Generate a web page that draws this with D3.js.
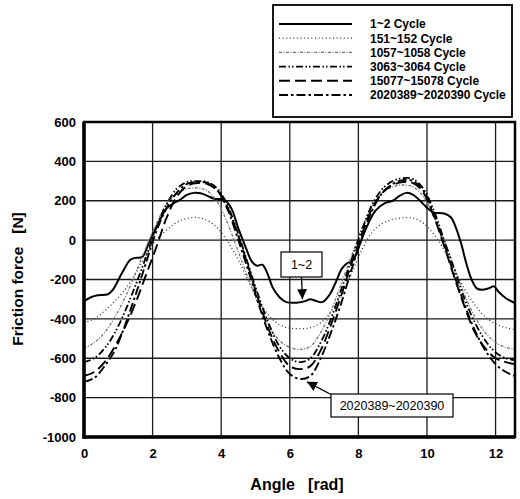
<!DOCTYPE html>
<html>
<head>
<meta charset="utf-8">
<script src="https://cdn.jsdelivr.net/npm/d3@7/dist/d3.min.js"></script>
<style>
  html, body { margin: 0; padding: 0; background: #fff; }
  svg { display: block; font-family: "Liberation Sans", Arial, sans-serif; }
</style>
</head>
<body>
<svg id="chart" width="520" height="499"></svg>
<script>
// Friction force over two revolutions, for several cycle windows
const yTicks = [-1000, -800, -600, -400, -200, 0, 200, 400, 600];
const xTicks = [0, 2, 4, 6, 8, 10, 12];

const seriesNames = ["1~2 Cycle", "151~152 Cycle", "1057~1058 Cycle",
  "3063~3064 Cycle", "15077~15078 Cycle", "2020389~2020390 Cycle"];

// Sampling angles [rad] shared by the later cycle windows
const angleGrid = [0, 0.3, 0.6, 0.9, 1.2, 1.5, 1.8, 2.1, 2.4, 2.7, 3.0, 3.3, 3.6, 3.9,
  4.2, 4.5, 4.8, 5.1, 5.4, 5.7, 6.0, 6.3, 6.6, 6.9, 7.2, 7.5, 7.8, 8.1, 8.4, 8.7,
  9.0, 9.3, 9.6, 9.9, 10.2, 10.5, 10.8, 11.1, 11.4, 11.7, 12.0, 12.3, 12.566];

// First cycles: own sampling, it has more local detail
const angle1 = [0, 0.2, 0.4, 0.7, 0.85, 1.1, 1.35, 1.5, 1.7, 1.9, 2.1, 2.4, 2.6, 2.8,
  3.0, 3.2, 3.4, 3.6, 3.8, 4.1, 4.3, 4.5, 4.7, 4.9, 5.05, 5.2, 5.35, 5.5, 5.7, 5.9,
  6.2, 6.45, 6.6, 6.75, 6.95, 7.15, 7.35, 7.5, 7.65, 7.85, 8.0, 8.2, 8.5, 8.8, 9.0,
  9.2, 9.4, 9.6, 9.8, 10.0, 10.2, 10.5, 10.7, 10.85, 11.0, 11.15, 11.3, 11.45, 11.6,
  11.8, 11.95, 12.1, 12.3, 12.566];
const force1 = [-310, -290, -280, -275, -250, -170, -100, -90, -85, -10, 60, 160, 185, 205,
  230, 240, 238, 225, 210, 205, 160, 60, -30, -110, -130, -125, -170, -240, -290, -315,
  -318, -310, -300, -308, -315, -280, -210, -150, -120, -100, -40, 50, 150, 190, 200,
  225, 240, 230, 200, 165, 140, 135, 115, 60, -20, -120, -200, -245, -252,
  -245, -235, -265, -295, -320];

const force151 = [-420, -400, -360, -310, -250, -170, -80, 0, 50, 90, 110, 115, 100, 60,
  -10, -100, -210, -310, -385, -430, -447, -450, -445, -420, -365, -280, -170, -50, 40, 85,
  105, 113, 112, 85, 30, -50, -150, -250, -330, -390, -425, -445, -455];
const force1057 = [-550, -520, -470, -390, -290, -170, -40, 80, 180, 235, 260, 265, 250, 190,
  80, -60, -200, -330, -440, -510, -545, -555, -540, -470, -360, -220, -80, 60, 170, 240,
  270, 280, 270, 220, 120, 0, -140, -280, -390, -470, -520, -545, -555];
const force3063 = [-620, -600, -550, -470, -360, -230, -90, 60, 180, 260, 295, 300, 295, 260,
  170, 30, -130, -290, -430, -540, -600, -620, -600, -520, -400, -250, -100, 50, 180, 260,
  300, 315, 310, 260, 150, 0, -150, -300, -420, -510, -570, -600, -610];
const force15077 = [-690, -670, -620, -540, -440, -320, -180, -40, 110, 220, 275, 290, 285, 250,
  160, 20, -140, -310, -460, -570, -640, -655, -640, -560, -430, -280, -120, 30, 160, 240,
  280, 295, 290, 240, 120, -30, -190, -340, -470, -550, -600, -620, -630];
const force2020389 = [-720, -700, -640, -560, -430, -280, -120, 40, 160, 240, 285, 295, 290, 250,
  150, 0, -160, -330, -480, -600, -680, -705, -690, -600, -470, -320, -150, 10, 150, 240,
  285, 305, 300, 250, 130, -20, -180, -330, -460, -560, -630, -670, -690];

// Stroke styles per cycle window
const styles = [
  { color: "#000", width: 2.0, dash: null },
  { color: "#333", width: 1.3, dash: "1,2.6" },
  { color: "#777", width: 1.3, dash: "3,1.5,1,1.5" },
  { color: "#000", width: 1.8, dash: "7,2.5,1.5,2,1.5,2.5" },
  { color: "#000", width: 1.9, dash: "11,5" },
  { color: "#000", width: 1.9, dash: "9,3,2.5,3" }
];

const series = [
  { name: seriesNames[0], x: angle1, y: force1 },
  { name: seriesNames[1], x: angleGrid, y: force151 },
  { name: seriesNames[2], x: angleGrid, y: force1057 },
  { name: seriesNames[3], x: angleGrid, y: force3063 },
  { name: seriesNames[4], x: angleGrid, y: force15077 },
  { name: seriesNames[5], x: angleGrid, y: force2020389 }
];

const svg = d3.select("#chart");
const plot = { left: 84, right: 515, top: 122, bottom: 437 };

const x = d3.scaleLinear().domain([0, 4 * Math.PI]).range([plot.left, plot.right]);
const y = d3.scaleLinear().domain([-1000, 600]).range([plot.bottom, plot.top]);

svg.append("clipPath").attr("id", "plotClip")
  .append("rect")
  .attr("x", plot.left).attr("y", plot.top)
  .attr("width", plot.right - plot.left).attr("height", plot.bottom - plot.top);

// Grid
const grid = svg.append("g").attr("stroke", "#1a1a1a").attr("stroke-width", 1.3);
grid.selectAll("line.h").data(yTicks.slice(1, -1)).join("line")
  .attr("x1", plot.left).attr("x2", plot.right)
  .attr("y1", d => y(d)).attr("y2", d => y(d));
grid.selectAll("line.v").data(xTicks.slice(1)).join("line")
  .attr("y1", plot.top).attr("y2", plot.bottom)
  .attr("x1", d => x(d)).attr("x2", d => x(d));

// Curves
const line = d3.line()
  .x(d => x(d[0])).y(d => y(d[1]))
  .curve(d3.curveCatmullRom.alpha(0.5));

const curves = svg.append("g").attr("clip-path", "url(#plotClip)");
series.forEach((s, i) => {
  const pts = s.x.map((a, k) => [a, s.y[k]]);
  const st = styles[i];
  curves.append("path")
    .attr("d", line(pts))
    .attr("fill", "none")
    .attr("stroke", st.color)
    .attr("stroke-width", st.width)
    .attr("stroke-dasharray", st.dash)
    .attr("stroke-linejoin", "round");
});

// Frame
svg.append("rect")
  .attr("x", plot.left).attr("y", plot.top)
  .attr("width", plot.right - plot.left).attr("height", plot.bottom - plot.top)
  .attr("fill", "none").attr("stroke", "#000").attr("stroke-width", 2.5);
svg.append("line").attr("x1", plot.left).attr("x2", plot.left)
  .attr("y1", plot.top).attr("y2", plot.bottom + 1.5)
  .attr("stroke", "#000").attr("stroke-width", 3.5);
svg.append("line").attr("x1", plot.left - 1.5).attr("x2", plot.right)
  .attr("y1", plot.bottom).attr("y2", plot.bottom)
  .attr("stroke", "#000").attr("stroke-width", 3.5);

// Axes (plain hyphen for negative numbers)
const plainNum = d => String(d);
const yAxis = d3.axisLeft(y).tickValues(yTicks).tickSize(0).tickPadding(8).tickFormat(plainNum);
const gy = svg.append("g").attr("transform", `translate(${plot.left},0)`).call(yAxis);
gy.select(".domain").remove();
gy.selectAll("text").attr("font-family", "Liberation Sans, Arial, sans-serif")
  .attr("font-size", 13).attr("font-weight", "bold").attr("fill", "#000");

const xAxis = d3.axisBottom(x).tickValues(xTicks).tickSize(0).tickPadding(12).tickFormat(plainNum);
const gx = svg.append("g").attr("transform", `translate(0,${plot.bottom})`).call(xAxis);
gx.select(".domain").remove();
gx.selectAll("text").attr("font-family", "Liberation Sans, Arial, sans-serif")
  .attr("font-size", 13).attr("font-weight", "bold").attr("fill", "#000");

// Axis titles
svg.append("text")
  .attr("x", 297).attr("y", 490)
  .attr("text-anchor", "middle")
  .attr("font-size", 16).attr("font-weight", "bold")
  .style("white-space", "pre")
  .text("Angle   [rad]");
svg.append("text")
  .attr("transform", "translate(23,279) rotate(-90)")
  .attr("text-anchor", "middle")
  .attr("font-size", 15.5).attr("font-weight", "bold")
  .style("white-space", "pre")
  .text("Friction force   [N]");

// Legend
const legend = svg.append("g");
legend.append("rect")
  .attr("x", 273).attr("y", 5).attr("width", 239).attr("height", 112)
  .attr("fill", "#fff").attr("stroke", "#000").attr("stroke-width", 1.8);
series.forEach((s, i) => {
  const yy = 24 + i * 14.2;
  const st = styles[i];
  legend.append("line")
    .attr("x1", 279).attr("x2", 352).attr("y1", yy).attr("y2", yy)
    .attr("stroke", st.color).attr("stroke-width", st.width)
    .attr("stroke-dasharray", st.dash);
  legend.append("text")
    .attr("x", 370).attr("y", yy + 4.3)
    .attr("font-size", 12).attr("font-weight", "bold")
    .text(s.name);
});

// Callouts
svg.append("defs").append("marker")
  .attr("id", "arrowHead").attr("viewBox", "0 0 10 10")
  .attr("refX", 10).attr("refY", 5)
  .attr("markerWidth", 10).attr("markerHeight", 10)
  .attr("markerUnits", "userSpaceOnUse")
  .attr("orient", "auto")
  .append("path").attr("d", "M0,0 L10,5 L0,10 Z").attr("fill", "#000");

function callout(label, bx, by, bw, bh, from, tipAngle, tipForce) {
  const g = svg.append("g");
  g.append("line")
    .attr("x1", from[0]).attr("y1", from[1])
    .attr("x2", x(tipAngle)).attr("y2", y(tipForce))
    .attr("stroke", "#000").attr("stroke-width", 1.3)
    .attr("marker-end", "url(#arrowHead)");
  g.append("rect")
    .attr("x", bx).attr("y", by).attr("width", bw).attr("height", bh)
    .attr("fill", "#fff").attr("stroke", "#000").attr("stroke-width", 1.2);
  g.append("text")
    .attr("x", bx + bw / 2).attr("y", by + bh / 2 + 4.5)
    .attr("text-anchor", "middle").attr("font-size", 12.5)
    .text(label);
}
callout("1~2", 281, 252, 41, 25, [301.5, 277], 6.37, -300);
callout("2020389~2020390", 331, 394, 122, 23, [332, 395], 6.5, -720);
</script>
</body>
</html>
